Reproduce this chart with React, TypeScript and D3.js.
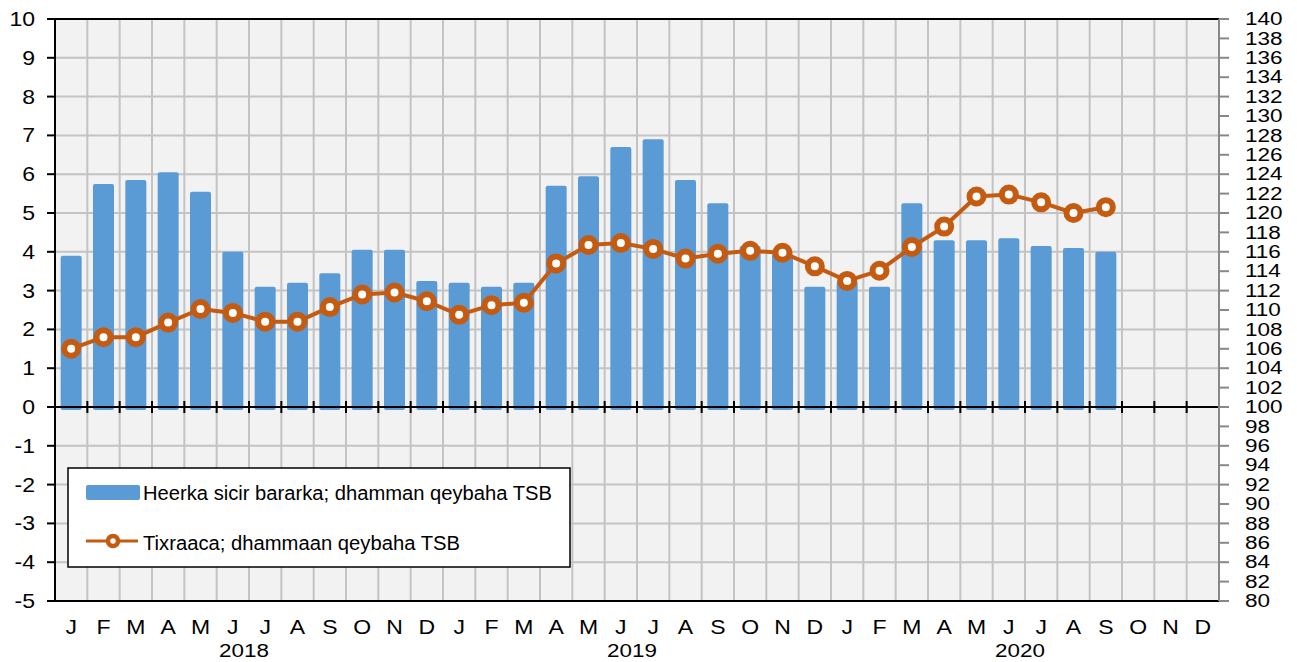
import React from "react";
import * as d3 from "d3";

const monthLetters = ["J", "F", "M", "A", "M", "J", "J", "A", "S", "O", "N", "D"];
const years = ["2018", "2019", "2020"];
const inflation = [
  3.9, 5.75, 5.85, 6.05, 5.55, 4.0, 3.1, 3.2, 3.45, 4.05, 4.05, 3.25,
  3.2, 3.1, 3.2, 5.7, 5.95, 6.7, 6.9, 5.85, 5.25, 4.15, 3.95, 3.1,
  3.25, 3.1, 5.25, 4.3, 4.3, 4.35, 4.15, 4.1, 4.0,
];
const cpiIndex = [
  106.0, 107.2, 107.2, 108.7, 110.1, 109.7, 108.8, 108.8, 110.3, 111.6, 111.8, 110.9,
  109.5, 110.5, 110.75, 114.8, 116.7, 116.9, 116.3, 115.3, 115.8, 116.1, 115.9, 114.5,
  113.0, 114.05, 116.5, 118.6, 121.7, 121.9, 121.1, 120.0, 120.6,
];
const leftTicks = d3.range(-5, 11, 1);
const rightTicks = d3.range(80, 141, 2);
const legendLabels = ["Heerka sicir bararka; dhamman qeybaha TSB", "Tixraaca; dhammaan qeybaha TSB"];

const W = 1297;
const H = 662;
const L = 55, R = 1219, T = 19, B = 601;
const BLUE = "#5B9BD5";
const ORANGE = "#C55A11";
const GRID = "#C3C3C3";
const FONT = "'Liberation Sans', Arial, sans-serif";
const SX = 1.15;

export default function App() {
  const keys = years.flatMap((y) => monthLetters.map((m, i) => `${y}-${i}`));
  const x = d3.scaleBand<string>().domain(keys).range([L, R]).paddingInner(0.35).paddingOuter(0.175);
  const step = x.step();
  const yL = d3.scaleLinear().domain([-5, 10]).range([B, T]);
  const yR = d3.scaleLinear().domain([80, 140]).range([B, T]);
  const cx = (i: number) => (x(keys[i]) as number) + x.bandwidth() / 2;
  const y0 = yL(0);

  const lineGen = d3
    .line<number>()
    .x((_, i) => cx(i))
    .y((d) => yR(d));

  const boundaries = d3.range(1, keys.length + 1).map((i) => L + i * step);

  return (
    <svg width={W} height={H} style={{ position: "absolute", left: 0, top: 0, background: "#fff" }} fontFamily={FONT}>
      <rect x={L} y={T} width={R - L} height={B - T} fill="#F2F2F2" />
      {/* grid */}
      {leftTicks.filter((t) => t !== -5 && t !== 10 && t !== 0).map((t) => (
        <line key={"h" + t} x1={L} x2={R} y1={yL(t)} y2={yL(t)} stroke={GRID} strokeWidth={2} />
      ))}
      {boundaries.slice(0, -1).map((bx, i) => (
        <line key={"v" + i} x1={bx} x2={bx} y1={T} y2={B} stroke={GRID} strokeWidth={2} />
      ))}
      {/* bars */}
      {inflation.map((v, i) => (
        <rect
          key={"b" + i}
          x={x(keys[i]) as number}
          y={yL(v)}
          width={x.bandwidth()}
          height={y0 + 3 - yL(v)}
          rx={2}
          fill={BLUE}
        />
      ))}
      {/* zero axis */}
      <line x1={L - 8} x2={R} y1={y0} y2={y0} stroke="#000" strokeWidth={2} />
      {boundaries.map((bx, i) => (
        <line key={"zt" + i} x1={bx} x2={bx} y1={y0 - 6} y2={y0 + 6} stroke="#000" strokeWidth={2} />
      ))}
      {/* frame */}
      <line x1={L} x2={R} y1={T} y2={T} stroke="#000" strokeWidth={2} />
      <line x1={L} x2={R} y1={B} y2={B} stroke="#000" strokeWidth={2} />
      <line x1={R} x2={R} y1={T} y2={B} stroke="#888" strokeWidth={2} />
      <line x1={L} x2={L} y1={T} y2={B} stroke="#000" strokeWidth={2} />
      {/* left axis */}
      {leftTicks.map((t) => (
        <g key={"lt" + t}>
          <line x1={L - 8} x2={L} y1={yL(t)} y2={yL(t)} stroke="#000" strokeWidth={2} />
          <text
            transform={`translate(35,${yL(t)}) scale(${SX},1)`}
            textAnchor="end"
            dominantBaseline="central"
            fontSize={20}
            fill="#000"
          >
            {t}
          </text>
        </g>
      ))}
      {/* right axis */}
      {rightTicks.map((t) => (
        <g key={"rt" + t}>
          <line x1={R} x2={R + 10} y1={yR(t)} y2={yR(t)} stroke="#888" strokeWidth={2} />
          <text
            transform={`translate(1245,${yR(t)}) scale(1.25,1)`}
            textAnchor="start"
            dominantBaseline="central"
            fontSize={18}
            fill="#000"
          >
            {t}
          </text>
        </g>
      ))}
      {/* month labels */}
      {keys.map((k, i) => (
        <text
          key={"m" + k}
          transform={`translate(${cx(i)},627) scale(${SX},1)`}
          textAnchor="middle"
          dominantBaseline="central"
          fontSize={20}
          fill="#000"
        >
          {monthLetters[i % 12]}
        </text>
      ))}
      {years.map((y, i) => (
        <text
          key={"y" + y}
          transform={`translate(${L + (i * 12 + 6) * step - 5},650) scale(1.18,1)`}
          textAnchor="middle"
          dominantBaseline="central"
          fontSize={19}
          fill="#000"
        >
          {y}
        </text>
      ))}
      {/* line */}
      <path d={lineGen(cpiIndex) || ""} fill="none" stroke={ORANGE} strokeWidth={4} strokeLinejoin="round" />
      {cpiIndex.map((v, i) => (
        <circle key={"c" + i} cx={cx(i)} cy={yR(v)} r={7} fill="#fff" stroke={ORANGE} strokeWidth={6} />
      ))}
      {/* legend */}
      <rect x={68} y={468} width={502} height={99} fill="#fff" stroke="#000" strokeWidth={1.5} />
      <rect x={86} y={485} width={54} height={15} rx={2} fill={BLUE} />
      <text x={143} y={500} fontSize={20} textLength={409} lengthAdjust="spacingAndGlyphs" fill="#000">
        {legendLabels[0]}
      </text>
      <line x1={86} x2={138} y1={541} y2={541} stroke={ORANGE} strokeWidth={3} />
      <circle cx={113} cy={541} r={5} fill="#fff" stroke={ORANGE} strokeWidth={4.5} />
      <text x={143} y={550} fontSize={20} textLength={317} lengthAdjust="spacingAndGlyphs" fill="#000">
        {legendLabels[1]}
      </text>
    </svg>
  );
}
